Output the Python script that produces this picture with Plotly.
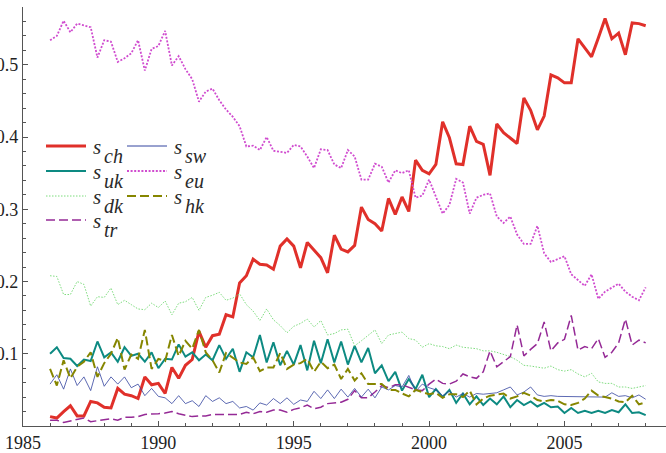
import plotly.graph_objects as go

# Quarterly observations, 1986Q1 .. 2008Q1
quarters = [1986 + q / 4 for q in range(89)]

s_ch = [0.013, 0.011, 0.020, 0.028, 0.014, 0.014, 0.034, 0.032, 0.026, 0.025,
        0.052, 0.044, 0.042, 0.038, 0.068, 0.057, 0.059, 0.045, 0.081, 0.066,
        0.084, 0.092, 0.131, 0.109, 0.125, 0.127, 0.154, 0.151, 0.198, 0.208,
        0.231, 0.224, 0.223, 0.217, 0.249, 0.259, 0.249, 0.219, 0.254, 0.244,
        0.233, 0.212, 0.264, 0.245, 0.241, 0.250, 0.303, 0.286, 0.280, 0.270,
        0.315, 0.293, 0.317, 0.297, 0.368, 0.354, 0.349, 0.362, 0.421, 0.399,
        0.363, 0.362, 0.415, 0.394, 0.390, 0.347, 0.418, 0.406, 0.398, 0.391,
        0.454, 0.437, 0.410, 0.429, 0.486, 0.482, 0.475, 0.475, 0.536, 0.524,
        0.511, 0.537, 0.564, 0.536, 0.544, 0.514, 0.558, 0.557, 0.554]

s_uk = [0.100, 0.109, 0.094, 0.093, 0.083, 0.092, 0.090, 0.117, 0.095, 0.102,
        0.089, 0.109, 0.097, 0.100, 0.089, 0.102, 0.080, 0.093, 0.092, 0.113,
        0.096, 0.102, 0.091, 0.099, 0.091, 0.112, 0.093, 0.107, 0.075, 0.102,
        0.095, 0.126, 0.088, 0.116, 0.084, 0.104, 0.085, 0.112, 0.077, 0.118,
        0.087, 0.120, 0.088, 0.117, 0.085, 0.111, 0.088, 0.108, 0.073, 0.084,
        0.062, 0.075, 0.049, 0.065, 0.051, 0.071, 0.040, 0.051, 0.040, 0.050,
        0.032, 0.045, 0.030, 0.041, 0.029, 0.038, 0.030, 0.041, 0.026, 0.036,
        0.029, 0.034, 0.027, 0.032, 0.026, 0.027, 0.018, 0.025, 0.018, 0.021,
        0.018, 0.021, 0.018, 0.022, 0.019, 0.030, 0.018, 0.019, 0.015]

s_dk = [0.208, 0.207, 0.182, 0.182, 0.200, 0.196, 0.166, 0.179, 0.178, 0.191,
        0.168, 0.174, 0.168, 0.162, 0.161, 0.170, 0.164, 0.173, 0.154, 0.170,
        0.172, 0.178, 0.160, 0.178, 0.181, 0.185, 0.174, 0.177, 0.183, 0.168,
        0.159, 0.146, 0.162, 0.147, 0.139, 0.129, 0.138, 0.142, 0.148, 0.137,
        0.146, 0.126, 0.128, 0.133, 0.134, 0.111, 0.118, 0.126, 0.133, 0.114,
        0.126, 0.128, 0.130, 0.121, 0.119, 0.109, 0.114, 0.111, 0.110, 0.107,
        0.112, 0.109, 0.108, 0.107, 0.104, 0.104, 0.102, 0.099, 0.096, 0.091,
        0.084, 0.083, 0.082, 0.080, 0.083, 0.078, 0.076, 0.078, 0.072, 0.068,
        0.073, 0.061, 0.059, 0.059, 0.054, 0.054, 0.052, 0.054, 0.056]

s_tr = [0.008, 0.008, 0.005, 0.007, 0.008, 0.011, 0.006, 0.007, 0.009, 0.010,
        0.008, 0.012, 0.012, 0.013, 0.016, 0.016, 0.017, 0.018, 0.020, 0.017,
        0.015, 0.013, 0.014, 0.014, 0.016, 0.016, 0.016, 0.016, 0.016, 0.019,
        0.017, 0.020, 0.019, 0.022, 0.022, 0.019, 0.023, 0.025, 0.029, 0.024,
        0.026, 0.031, 0.032, 0.033, 0.037, 0.049, 0.039, 0.039, 0.047, 0.056,
        0.053, 0.057, 0.057, 0.054, 0.050, 0.049, 0.058, 0.065, 0.059, 0.058,
        0.062, 0.072, 0.068, 0.066, 0.075, 0.104, 0.082, 0.089, 0.096, 0.140,
        0.097, 0.106, 0.114, 0.144, 0.104, 0.115, 0.120, 0.153, 0.105, 0.110,
        0.107, 0.121, 0.095, 0.102, 0.115, 0.148, 0.112, 0.119, 0.115]

s_sw = [0.058, 0.071, 0.051, 0.079, 0.056, 0.068, 0.049, 0.082, 0.055, 0.068,
        0.058, 0.068, 0.053, 0.058, 0.042, 0.052, 0.041, 0.039, 0.031, 0.042,
        0.031, 0.035, 0.027, 0.042, 0.034, 0.039, 0.031, 0.034, 0.025, 0.027,
        0.022, 0.032, 0.029, 0.038, 0.031, 0.039, 0.030, 0.036, 0.034, 0.048,
        0.038, 0.050, 0.038, 0.051, 0.040, 0.052, 0.040, 0.051, 0.039, 0.054,
        0.050, 0.056, 0.054, 0.070, 0.048, 0.058, 0.053, 0.050, 0.042, 0.048,
        0.040, 0.045, 0.040, 0.045, 0.044, 0.045, 0.046, 0.050, 0.054, 0.043,
        0.047, 0.054, 0.043, 0.041, 0.042, 0.041, 0.041, 0.041, 0.040, 0.040,
        0.040, 0.041, 0.040, 0.046, 0.041, 0.042, 0.039, 0.043, 0.037]

s_eu = [0.534, 0.540, 0.561, 0.545, 0.557, 0.554, 0.552, 0.510, 0.534, 0.532,
        0.504, 0.509, 0.516, 0.534, 0.492, 0.522, 0.526, 0.547, 0.499, 0.512,
        0.494, 0.480, 0.449, 0.463, 0.467, 0.451, 0.438, 0.428, 0.415, 0.387,
        0.388, 0.382, 0.400, 0.381, 0.379, 0.378, 0.389, 0.387, 0.373, 0.357,
        0.383, 0.382, 0.362, 0.357, 0.382, 0.373, 0.341, 0.341, 0.363, 0.359,
        0.337, 0.354, 0.350, 0.354, 0.316, 0.319, 0.341, 0.318, 0.294, 0.306,
        0.342, 0.337, 0.294, 0.316, 0.320, 0.322, 0.290, 0.281, 0.290, 0.265,
        0.252, 0.252, 0.277, 0.239, 0.227, 0.231, 0.235, 0.210, 0.202, 0.194,
        0.210, 0.176, 0.186, 0.192, 0.197, 0.186, 0.179, 0.174, 0.192]

s_hk = [0.079, 0.056, 0.091, 0.066, 0.082, 0.089, 0.102, 0.068, 0.087, 0.100,
        0.122, 0.078, 0.099, 0.093, 0.133, 0.079, 0.093, 0.090, 0.126, 0.097,
        0.118, 0.107, 0.133, 0.102, 0.091, 0.074, 0.101, 0.095, 0.088, 0.086,
        0.095, 0.076, 0.081, 0.081, 0.101, 0.079, 0.085, 0.087, 0.093, 0.075,
        0.089, 0.080, 0.085, 0.065, 0.079, 0.063, 0.073, 0.058, 0.058, 0.058,
        0.050, 0.050, 0.045, 0.041, 0.050, 0.047, 0.044, 0.046, 0.039, 0.044,
        0.044, 0.040, 0.049, 0.030, 0.038, 0.042, 0.043, 0.045, 0.038, 0.041,
        0.046, 0.042, 0.036, 0.034, 0.036, 0.035, 0.030, 0.029, 0.032, 0.038,
        0.049, 0.042, 0.040, 0.038, 0.034, 0.033, 0.042, 0.030, 0.033]

x_ticks = [1985, 1990, 1995, 2000, 2005]
y_ticks = [0.1, 0.2, 0.3, 0.4, 0.5]
y_tick_text = ["0.1", "0.2", "0.3", "0.4", "0.5"]

# name, values, colour, width, dash
series = [
    ("ch", s_ch, "#e0302a", 3.0, "solid"),
    ("uk", s_uk, "#0d8a82", 2.0, "solid"),
    ("dk", s_dk, "#7ddc7d", 1.0, "1.5px,1.5px"),
    ("tr", s_tr, "#952a96", 1.5, "9px,4px"),
    ("sw", s_sw, "#33449f", 0.8, "solid"),
    ("eu", s_eu, "#d04ccf", 1.8, "2px,1.6px"),
    ("hk", s_hk, "#868600", 2.0, "9px,4px"),
]

W, H = 666, 453
ML, MR, MT, MB = 23, 0, 7, 27
PW, PH = W - ML - MR, H - MT - MB


def px_x(px):
    return (px - ML) / PW


def px_y(py):
    return (H - MB - py) / PH


fig = go.Figure()
for name, vals, color, width, dash in series:
    fig.add_trace(go.Scatter(
        x=quarters, y=vals, mode="lines", name=name,
        line=dict(color=color, width=width, dash=dash),
        showlegend=False,
    ))

# Legend block: two columns of line samples with italic s-subscript labels
legend_pos = {
    "ch": (46, 146), "uk": (46, 171), "dk": (46, 196), "tr": (46, 220),
    "sw": (127, 146), "eu": (127, 171), "hk": (127, 196),
}
shapes = []
annotations = []
serif = "Liberation Serif, Times New Roman, serif"
for name, vals, color, width, dash in series:
    lx, ly = legend_pos[name]
    shapes.append(dict(
        type="line", xref="paper", yref="paper",
        x0=px_x(lx), x1=px_x(lx + 40), y0=px_y(ly), y1=px_y(ly),
        line=dict(color=color, width=max(width, 1.0), dash=dash),
    ))
    annotations.append(dict(
        text="<i>s</i>", xref="paper", yref="paper",
        x=px_x(lx + 45), y=px_y(ly + 1), xanchor="left", yanchor="middle",
        showarrow=False, font=dict(family=serif, size=21, color="#2a2a2a"),
    ))
    annotations.append(dict(
        text="<i>%s</i>" % name, xref="paper", yref="paper",
        x=px_x(lx + 55.5), y=px_y(ly + 10), xanchor="left", yanchor="middle",
        showarrow=False, font=dict(family=serif, size=20, color="#2a2a2a"),
    ))

axis_common = dict(
    showline=True, linecolor="#555", linewidth=1.2, mirror=False,
    ticks="inside", ticklen=5, tickwidth=1, tickcolor="#555",
    showgrid=False, zeroline=False, automargin=False,
    tickfont=dict(family=serif, size=18, color="#222"),
)

fig.update_layout(
    width=W, height=H,
    margin=dict(l=ML, r=MR, t=MT, b=MB, pad=0, autoexpand=False),
    paper_bgcolor="white", plot_bgcolor="white",
    xaxis=dict(
        range=[1985, 2008.75], tickvals=x_ticks,
        minor=dict(ticks="inside", ticklen=3, dtick=1, tick0=1985,
                   tickcolor="#555", tickwidth=1),
        **axis_common,
    ),
    yaxis=dict(
        range=[0, 0.58], tickvals=y_ticks, ticktext=y_tick_text,
        minor=dict(ticks="inside", ticklen=3, dtick=0.02, tick0=0,
                   tickcolor="#555", tickwidth=1),
        **axis_common,
    ),
    shapes=shapes,
    annotations=annotations,
)

fig.write_html("out.html")
